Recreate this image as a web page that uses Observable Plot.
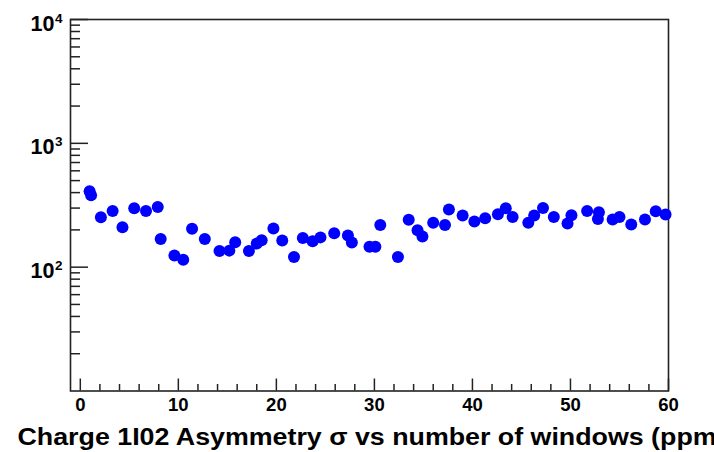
<!DOCTYPE html>
<html>
<head>
<meta charset="utf-8">
<script src="https://cdn.jsdelivr.net/npm/d3@7"></script>
<script src="https://cdn.jsdelivr.net/npm/@observablehq/plot@0.6"></script>
<style>
  html, body { margin: 0; padding: 0; background: #fff; overflow: hidden; }
</style>
</head>
<body>
<div id="chart"></div>
<script>
// Asymmetry width (ppm) against the number of windows
const windows = [0.95, 1.1, 2.1, 3.3, 4.3, 5.5, 6.7, 7.9, 8.2, 9.6, 10.5, 11.4, 12.7, 14.2, 15.2, 15.8,
  17.2, 18.0, 18.5, 19.7, 20.6, 21.8, 22.7, 23.7, 24.5, 25.9, 27.3, 27.7, 29.5, 30.1, 30.6, 32.4,
  33.5, 34.4, 34.9, 36.0, 37.2, 37.6, 39.0, 40.2, 41.3, 42.6, 43.4, 44.1, 45.7, 46.3, 47.2, 48.3,
  49.7, 50.1, 51.7, 52.9, 52.8, 54.3, 55.0, 56.2, 57.6, 58.7, 59.7];
const sigma = [410, 381, 253, 284, 210, 299, 284, 306, 169, 124, 115, 204, 169, 135, 136, 159,
  135, 155, 165, 205, 164, 121, 172, 162, 174, 188, 180, 158, 146, 146, 219, 121,
  241, 199, 177, 228, 219, 292, 261, 234, 248, 267, 299, 254, 228, 261, 301, 254,
  225, 263, 284, 278, 245, 243, 254, 221, 243, 283, 266];

// Axis ticks
const xMajor = [0, 10, 20, 30, 40, 50, 60];
const xMinor = d3.range(0, 60, 2).filter(v => v % 10 !== 0);
const yExponents = [2, 3, 4];
const yMajor = yExponents.map(e => 10 ** e);
const yMinor = [10, 100, 1000].flatMap(d => d3.range(2, 10).map(k => k * d));

const titleText = "Charge 1I02 Asymmetry \u03c3 vs number of windows (ppm)";

const W = 714, H = 452;
const mL = 70, mR = 46, mT = 19, mB = 61.5;
const plotW = W - mL - mR, plotH = H - mT - mB;
const font = "'Liberation Sans', Arial, Helvetica, sans-serif";
const axisColor = "#222";

const data = windows.map((x, i) => ({x, y: sigma[i]}));

const chart = Plot.plot({
  width: W,
  height: H,
  marginLeft: mL,
  marginRight: mR,
  marginTop: mT,
  marginBottom: mB,
  x: {domain: [-1, 60], axis: null},
  y: {type: "log", domain: [10, 10000], axis: null},
  marks: [
    // inward tick marks along the bottom and left edges
    Plot.tickX(xMajor, {x: d => d, insetTop: plotH - 12, stroke: axisColor, strokeWidth: 1.5}),
    Plot.tickX(xMinor, {x: d => d, insetTop: plotH - 6.5, stroke: axisColor, strokeWidth: 1.5}),
    Plot.tickY(yMajor, {y: d => d, insetRight: plotW - 18, stroke: axisColor, strokeWidth: 1.5}),
    Plot.tickY(yMinor, {y: d => d, insetRight: plotW - 10, stroke: axisColor, strokeWidth: 1.5}),
    Plot.frame({stroke: axisColor, strokeWidth: 1.6}),
    // data points
    Plot.dot(data, {x: "x", y: "y", r: 6, fill: "#0000ff", stroke: "none"}),
    // x tick labels
    Plot.text(xMajor, {
      x: d => d, text: d => String(d), frameAnchor: "bottom", dy: 14,
      lineAnchor: "middle", fontSize: 18.5, fontWeight: "bold", fontFamily: font, fill: "#000"
    }),
    // y tick labels as 10 with a raised exponent
    Plot.text(yExponents, {
      y: e => 10 ** e, text: () => "10", frameAnchor: "left", dx: -16, dy: 11,
      textAnchor: "end", lineAnchor: "bottom", fontSize: 21.5, fontWeight: "bold", fontFamily: font, fill: "#000"
    }),
    Plot.text(yExponents, {
      y: e => 10 ** e, text: e => String(e), frameAnchor: "left", dx: -15.5, dy: 3,
      textAnchor: "start", lineAnchor: "bottom", fontSize: 13.5, fontWeight: "bold", fontFamily: font, fill: "#000"
    }),
    // axis title
    Plot.text([titleText], {
      text: d => d, frameAnchor: "bottom-left", dx: 17 - mL, dy: 53.5,
      textAnchor: "start", lineAnchor: "bottom", fontSize: 23, fontWeight: "bold", fontFamily: font, fill: "#000"
    })
  ]
});

// the title is set wide, running past the right edge
d3.select(chart).selectAll("text")
  .filter(function() { return this.textContent === titleText; })
  .attr("textLength", 708)
  .attr("lengthAdjust", "spacingAndGlyphs");

document.getElementById("chart").appendChild(chart);
</script>
</body>
</html>
